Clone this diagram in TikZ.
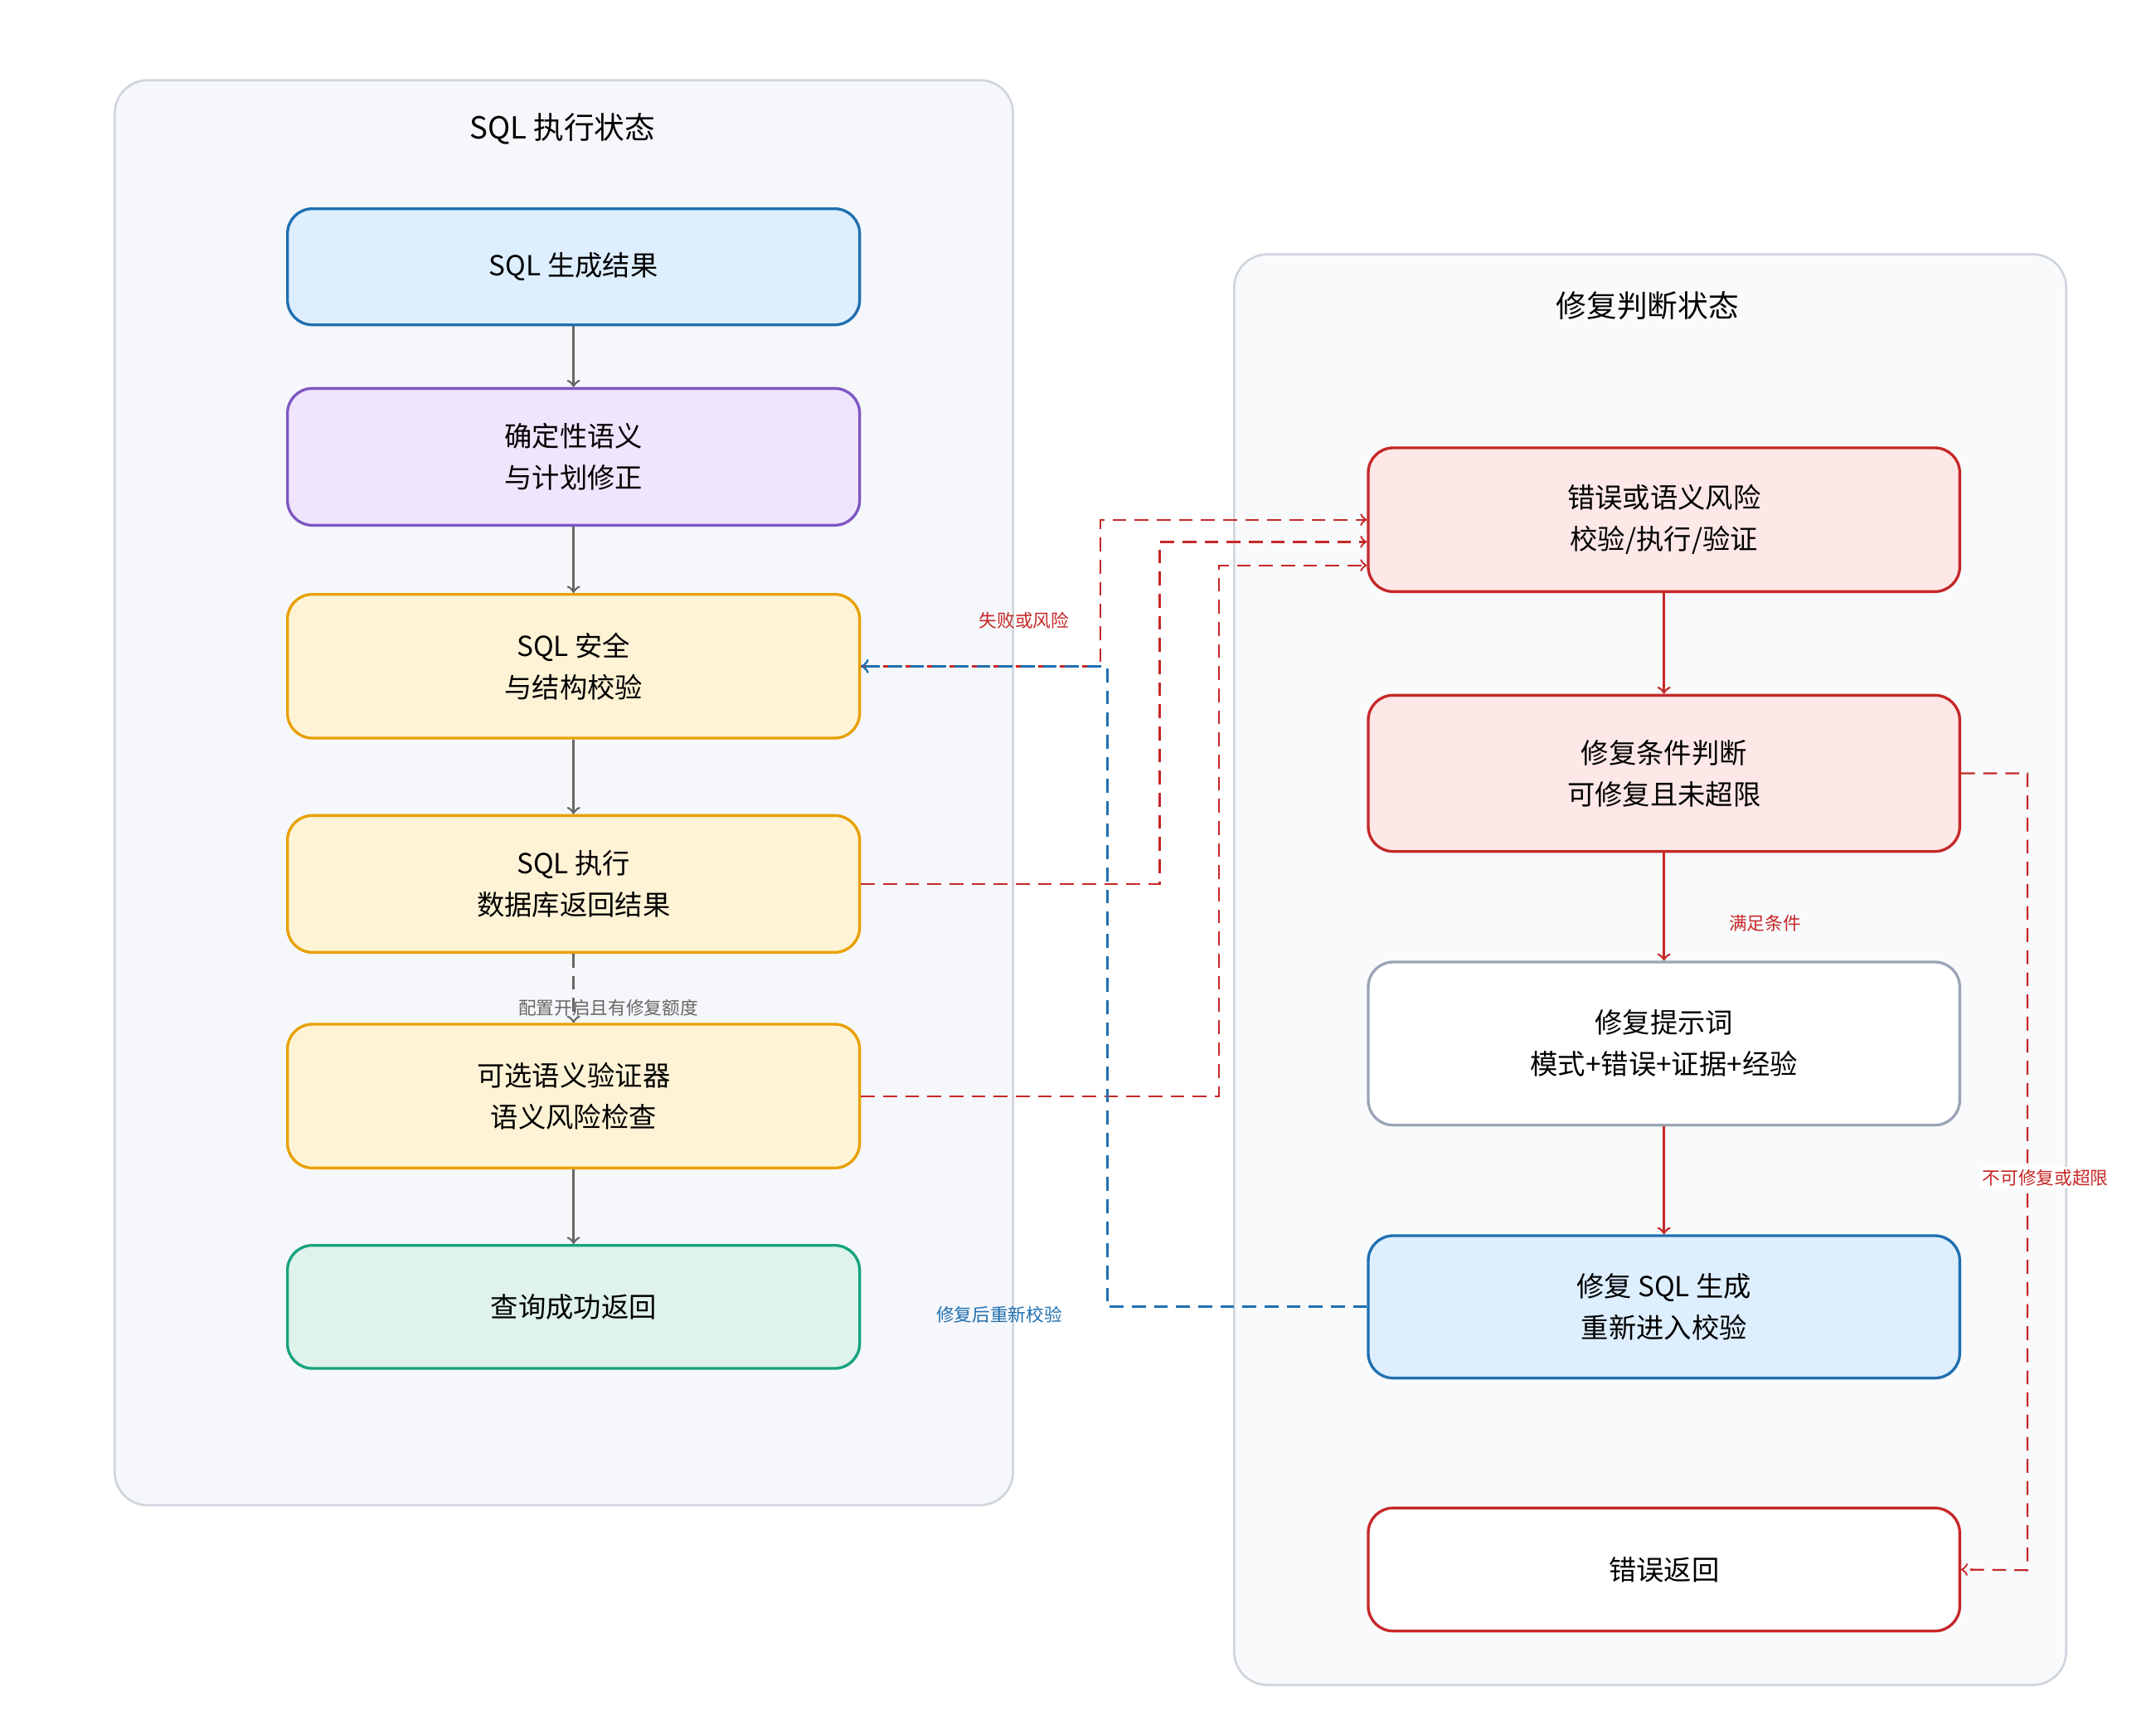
\documentclass[tikz,border=0pt]{standalone}
\usepackage{fontspec}
\setmainfont{Noto Sans CJK SC}
\usetikzlibrary{arrows, positioning}
\definecolor{panelfill}{HTML}{F5F7FA}
\definecolor{panelline}{HTML}{D0D5DC}
\definecolor{blueline}{HTML}{1F6FB0}
\definecolor{bluefill}{HTML}{DDEEFF}
\definecolor{purpleline}{HTML}{7E57C2}
\definecolor{purplefill}{HTML}{EFE5FD}
\definecolor{yellowline}{HTML}{E8A000}
\definecolor{yellowfill}{HTML}{FFF3D6}
\definecolor{greenline}{HTML}{16A37F}
\definecolor{greenfill}{HTML}{DFF2EC}
\definecolor{redline}{HTML}{C62828}
\definecolor{redfill}{HTML}{FDE7E7}
\definecolor{grayline}{HTML}{9AA5B5}
\definecolor{arrowgray}{HTML}{666666}

\begin{document}
\begin{tikzpicture}[
    x=0.5pt, y=-0.5pt,
    panel/.style={rectangle, draw=panelline, fill=panelfill, line width=0.8pt, rounded corners=12pt},
    stage/.style={rectangle, draw, line width=1pt, rounded corners=9pt, align=center, font=\fontsize{10}{15}\selectfont},
    lbox/.style={stage, minimum width=207pt},
    rbox/.style={stage, minimum width=214pt},
    arrow/.style={->, line width=0.8pt, draw=arrowgray},
    redarrow/.style={->, line width=0.8pt, draw=redline},
    reddash/.style={redarrow, line width=0.7pt, dash pattern=on 5pt off 3pt},
    bluedash/.style={->, line width=0.9pt, draw=blueline, dash pattern=on 5pt off 3pt},
    lab/.style={font=\fontsize{6.5}{8}\selectfont}
]
\useasboundingbox (0,0) rectangle (1560,1248);

% Panels
\draw[panel] (83,58) rectangle (733,1089);
\node[font=\fontsize{11}{13}\selectfont] (ltitle) at (407,93) {SQL 执行状态};
\draw[panel, fill=white!40!panelfill] (893,184) rectangle (1495,1219);
\node[font=\fontsize{11}{13}\selectfont] (rtitle) at (1192,221) {修复判断状态};

% Left column
\node[lbox, draw=blueline, fill=bluefill, minimum height=42pt] (gen) at (415,193) {SQL 生成结果};
\node[lbox, draw=purpleline, fill=purplefill, minimum height=49.5pt] (fix) at (415,330.5) {确定性语义\\与计划修正};
\node[lbox, draw=yellowline, fill=yellowfill, minimum height=52pt] (check) at (415,482) {SQL 安全\\与结构校验};
\node[lbox, draw=yellowline, fill=yellowfill, minimum height=49.5pt] (exec) at (415,639.5) {SQL 执行\\数据库返回结果};
\node[lbox, draw=yellowline, fill=yellowfill, minimum height=52pt] (verify) at (415,793) {可选语义验证器\\语义风险检查};
\node[lbox, draw=greenline, fill=greenfill, minimum height=44.5pt] (ok) at (415,945.5) {查询成功返回};

% Right column
\node[rbox, draw=redline, fill=redfill, minimum height=52pt] (risk) at (1204,376) {错误或语义风险\\校验/执行/验证};
\node[rbox, draw=redline, fill=redfill, minimum height=56.5pt] (judge) at (1204,559.5) {修复条件判断\\可修复且未超限};
\node[rbox, draw=grayline, fill=white, minimum height=59pt] (prompt) at (1204,755) {修复提示词\\模式+错误+证据+经验};
\node[rbox, draw=blueline, fill=bluefill, minimum height=51.5pt] (regen) at (1204,945.5) {修复 SQL 生成\\重新进入校验};
\node[rbox, draw=redline, fill=white, minimum height=44.5pt] (err) at (1204,1135.5) {错误返回};

% Arrows
\draw[arrow] (gen) -- (fix);
\draw[arrow] (fix) -- (check);
\draw[arrow] (check) -- (exec);
\draw[arrow, dash pattern=on 5pt off 3pt] (exec) -- (verify);
\node[lab, text=arrowgray] (cfg) at (440,729) {配置开启且有修复额度};
\draw[arrow] (verify) -- (ok);

\draw[reddash] (check.east) -| (796,376) -- (risk.west |- 0,376);
\node[lab, text=redline] (fail) at (741,449) {失败或风险};
\draw[reddash] (exec.east) -| (839,392) -- (risk.west |- 0,392);
\draw[reddash] (verify.east) -| (882,409) -- (risk.west |- 0,409);

\draw[redarrow] (risk) -- (judge);
\draw[redarrow] (judge) -- (prompt);
\node[lab, text=redline] (meet) at (1277,668) {满足条件};
\draw[redarrow] (prompt) -- (regen);
\draw[reddash] (judge.east) -| (1467,1136) -- (err.east);
\node[lab, text=redline, fill=white, inner sep=1pt] (nofix) at (1480,852) {不可修复或超限};

\draw[bluedash] (regen.west) -| (801,482) -- (check.east);
\node[lab, text=blueline] (retry) at (723,951) {修复后重新校验};
\end{tikzpicture}
\end{document}
